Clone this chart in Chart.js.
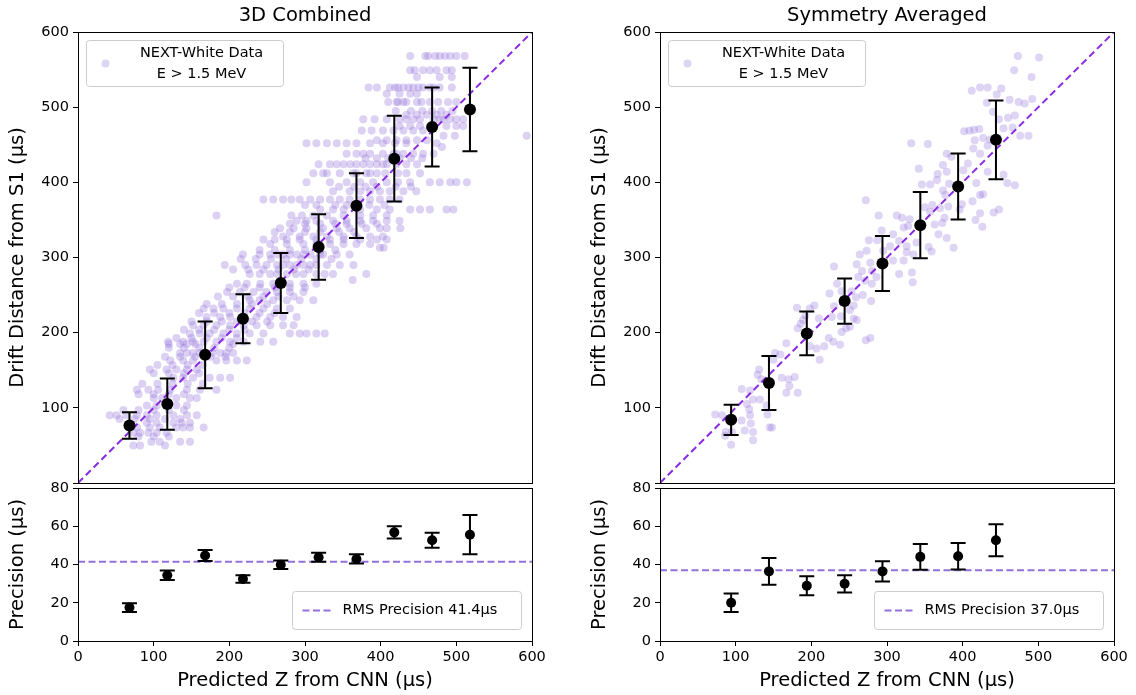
<!DOCTYPE html>
<html>
<head>
<meta charset="utf-8">
<script src="https://cdn.jsdelivr.net/npm/chart.js@4.4.1/dist/chart.umd.min.js"></script>
<style>
html, body { margin: 0; padding: 0; background: #fff; overflow: hidden; }
.box { position: absolute; }
</style>
</head>
<body>
<div class="box" style="left:0;top:0;width:554px;height:489px"><canvas id="combinedTop"></canvas></div>
<div class="box" style="left:0;top:470px;width:554px;height:225px"><canvas id="combinedBottom"></canvas></div>
<div class="box" style="left:582px;top:0;width:554px;height:489px"><canvas id="symTop"></canvas></div>
<div class="box" style="left:582px;top:470px;width:554px;height:225px"><canvas id="symBottom"></canvas></div>
<script>
// ---- 3D Combined ----
// each row: [drift distance, predicted z values ...]
const combinedCloudRows = [
  [568, 439,459,463,472,478,485,492,500,511],
  [549, 439,445,456,465,474,487,494],
  [540, 448,478,494],
  [526, 384,395,412,419,423,430,437,443,450,456,465,470,478,494],
  [518, 408,425,439,448],
  [507, 410,421,423,430,434,448,454,465,476,489,500],
  [495, 420,440,455,468,480,495],
  [490, 434,448,461,474,487],
  [484, 377,392,408,425,434,443,452,470,478,483,492,500,509],
  [475, 425,439,452,470,487,500,509],
  [469, 375,388,403,417,430,443,456],
  [462, 483,498,593],
  [456, 395,408,421,434,448,461],
  [452, 302,315,329,342,355,368,386,403,419,434,474],
  [447, 481],
  [438, 355,368,377,386,403,417,421,430,443,456,470],
  [432, 380,395,410,425,440,455],
  [424, 318,333,342,351,360,368,377,386,395,403,408,421,434,448],
  [412, 311,324,329,346,364,368,381,386,395,406,423,434,452],
  [400, 302,333,355,373,390,408,423,439,465,478,492,500,514],
  [394, 345,365,380,395,420,440],
  [388, 337,359,373,386,399,412,430,447],
  [377, 245,258,271,282,293,307,320,333,346,359,373,386,399,412,425],
  [370, 300,315,340,355,370,385,405],
  [364, 320,337,351,373,395,412,439,452,465,487,496],
  [356, 183,282,296,311,329,351,373,390,408],
  [349, 289,302,315,337,355,373,390,408,425],
  [345, 280,300,320,340,355,375,395],
  [339, 267,285,302,324,342,359,381,399,408,426],
  [334, 260,280,300,320,345,365],
  [328, 271,293,311,329,351,368,386,403],
  [324, 245,260,276,293,315,333,351,373,395,408],
  [318, 254,276,298,315,333,351,368,386],
  [313, 399,404],
  [310, 240,260,280,300,320,340],
  [304, 218,240,254,264,271,280,289,298,307,320,324,342,359],
  [298, 215,235,255,275,295,315,335],
  [290, 194,221,236,249,263,271,280,289,298,307,315,329,346,364],
  [284, 205,225,245,265,285,305],
  [278, 227,240,254,263,276,288,298,315,326,337,381],
  [270, 363],
  [265, 210,223,241,258,280,298,315],
  [260, 200,220,240,260,280,300],
  [254, 197,214,232,249,263,280,298],
  [248, 185,205,225,245,265,285],
  [243, 227,240,258,276,293,311],
  [238, 170,190,210,230,250],
  [232, 166,179,192,210,227,245,263,280],
  [226, 160,180,200,220,240,260],
  [221, 170,188,201,219,236,254,271,289],
  [215, 150,170,190,210,230,250],
  [210, 152,166,183,201,219,236,254,271,285],
  [204, 140,160,180,200,220],
  [199, 148,161,174,192,210,227,245,280,293,302,315,326],
  [193, 130,150,170,190,210],
  [188, 119,139,152,166,183,201,219,241,258],
  [185, 120,135,144,155,205],
  [180, 120,140,160,180,200],
  [173, 135,144,152,161,170,178,188,196,205],
  [168, 115,135,155,175,195],
  [163, 122,139,152,183,196,210,223],
  [157, 105,125,145,165],
  [151, 95,117,130,144,157],
  [146, 100,120,140,160],
  [140, 126,139,152,174,188,201],
  [132, 85,105,125,145,165],
  [124, 78,93,106,122,144,161,183],
  [118, 80,100,120,140],
  [113, 100,111,130,148,157],
  [103, 91,104,130,144],
  [97, 60,80,100,120,140],
  [90, 42,51,64,78,91,104,126,144,157],
  [85, 55,75,95,115,135],
  [80, 91,104,126,137,148],
  [74, 78,95,108,130,139,148,166],
  [67, 73,82,93,104,117],
  [62, 80,100,120],
  [55, 97,108,135,148],
  [50, 73,82,115]
];
const combinedCentres = [68, 118, 168, 218, 268, 318, 368, 418, 468, 518];
const combinedMean = [76.5, 105, 170.5, 218.5, 266, 314, 369, 431.5, 473.5, 497];
const combinedSpread = [17.5, 34, 44.5, 32.5, 40, 43.5, 43, 57, 52.5, 55.5];
const combinedPrecision = [17.5, 34.4, 44.7, 32.4, 39.9, 43.8, 42.9, 56.8, 52.7, 55.6];
const combinedPrecisionErr = [2.3, 2.5, 2.9, 2, 2.2, 2.4, 2.4, 3.2, 3.9, 10.3];
const combinedRms = 41.4;

// ---- Symmetry Averaged ----
// [predicted z, drift distance]
const symCloud = [
  [473,568],[501,566],[468,549],[491,540],[433,526],[423,526],[412,522],[451,525],[445,517],[462,510],
  [474,507],[482,505],[492,511],[432,506],[440,494],[448,484],[460,486],[469,489],[454,472],[466,473],
  [476,462],[487,462],[402,468],[409,469],[415,470],[422,471],[416,456],[427,459],[433,449],[436,457],
  [414,445],[423,438],[332,452],[354,451],[379,438],[385,434],[374,423],[407,425],[401,416],[433,414],
  [454,410],[459,399],[469,396],[367,411],[379,414],[342,418],[346,397],[357,397],[366,403],[382,398],
  [374,389],[418,399],[423,383],[427,384],[413,375],[399,371],[396,364],[423,359],[441,360],[448,364],
  [417,350],[426,341],[377,383],[381,368],[370,366],[376,353],[373,346],[363,344],[357,361],[360,370],
  [350,367],[272,376],[289,356],[313,356],[320,353],[330,351],[328,342],[322,340],[308,331],[293,336],
  [276,323],[287,323],[295,309],[304,315],[316,322],[326,315],[339,320],[355,314],[359,308],[368,331],
  [379,326],[388,313],[335,304],[326,307],[322,296],[308,296],[333,280],[334,267],[316,278],[286,274],
  [278,293],[280,282],[273,309],[264,304],[260,291],[267,282],[271,269],[262,274],[280,265],[230,288],
  [234,265],[240,255],[253,255],[224,252],[259,247],[268,250],[279,242],[256,236],[251,230],[256,219],
  [260,217],[239,222],[230,235],[227,221],[240,201],[246,206],[251,208],[272,190],[278,193],[223,193],
  [229,188],[238,184],[217,182],[207,179],[204,236],[198,232],[192,223],[181,233],[186,212],[182,206],
  [189,217],[210,219],[211,164],[198,182],[159,171],[152,173],[167,186],[150,164],[131,151],[129,144],
  [134,138],[161,140],[170,138],[178,141],[171,129],[167,120],[182,120],[108,125],[119,123],[123,111],
  [115,105],[132,111],[118,98],[119,90],[120,79],[123,68],[108,83],[112,70],[95,68],[87,68],
  [86,63],[94,51],[123,57],[73,91],[82,90],[145,74],[142,91],[148,74],[141,103]
];
const symCentres = [94, 144, 194, 244, 294, 344, 394, 444];
const symMean = [84, 133, 199, 242, 292, 343, 394.5, 456.5];
const symSpread = [20, 36, 29, 30, 36.5, 44, 44, 52.5];
const symPrecision = [20, 36.4, 28.9, 29.9, 36.4, 44, 44.3, 52.7];
const symPrecisionErr = [4.8, 7, 5, 4.5, 5.3, 6.7, 6.9, 8.4];
const symRms = 37.0;

const driftTicks = [0, 100, 200, 300, 400, 500, 600];
const precisionTicks = [0, 20, 40, 60, 80];

const diagColour = '#8a2be2';
const rmsColour = '#9370db';

Chart.defaults.font.family = 'DejaVu Sans';
Chart.defaults.color = '#000';
Chart.defaults.animation = false;

const framePlugin = {
  id: 'frame',
  afterDatasetsDraw(chart) {
    const { ctx, chartArea: a } = chart;
    ctx.save();
    ctx.strokeStyle = '#000';
    ctx.lineWidth = 1;
    ctx.strokeRect(Math.round(a.left) + 0.5, Math.round(a.top) + 0.5,
      Math.round(a.right) - Math.round(a.left), Math.round(a.bottom) - Math.round(a.top));
    ctx.restore();
  }
};

const errorBarPlugin = {
  id: 'errorBars',
  afterDatasetsDraw(chart) {
    const { ctx, scales: { x, y } } = chart;
    chart.data.datasets.forEach(ds => {
      if (!ds.errors) return;
      const cap = ds.capHalf;
      ctx.save();
      ctx.strokeStyle = '#000';
      ctx.lineWidth = 2;
      ds.data.forEach((p, j) => {
        const px = x.getPixelForValue(p.x);
        const hi = y.getPixelForValue(p.y + ds.errors[j]);
        const lo = y.getPixelForValue(p.y - ds.errors[j]);
        ctx.beginPath();
        ctx.moveTo(px, hi); ctx.lineTo(px, lo);
        ctx.moveTo(px - cap, hi); ctx.lineTo(px + cap, hi);
        ctx.moveTo(px - cap, lo); ctx.lineTo(px + cap, lo);
        ctx.stroke();
      });
      ctx.restore();
    });
  }
};

function roundBox(ctx, x, y, w, h, r) {
  ctx.beginPath();
  ctx.moveTo(x + r, y);
  ctx.arcTo(x + w, y, x + w, y + h, r);
  ctx.arcTo(x + w, y + h, x, y + h, r);
  ctx.arcTo(x, y + h, x, y, r);
  ctx.arcTo(x, y, x + w, y, r);
  ctx.closePath();
  ctx.fillStyle = 'rgba(255,255,255,0.8)';
  ctx.fill();
  ctx.strokeStyle = '#cccccc';
  ctx.lineWidth = 1;
  ctx.stroke();
}

const boxLegendPlugin = {
  id: 'boxLegend',
  afterDraw(chart, args, opts) {
    const { ctx, chartArea: a } = chart;
    const ds = chart.data.datasets[opts.datasetIndex];
    ctx.save();
    ctx.font = '14.5px "DejaVu Sans"';
    ctx.textBaseline = 'middle';
    if (opts.kind === 'cloud') {
      const bx = a.left + 8.5, by = a.top + 8.5, w = 197, h = 46;
      roundBox(ctx, bx, by, w, h, 3);
      ctx.fillStyle = 'rgba(147,112,219,0.3)';
      ctx.beginPath();
      ctx.arc(bx + 19, by + 23, 4, 0, Math.PI * 2);
      ctx.fill();
      ctx.fillStyle = '#000';
      ctx.textAlign = 'center';
      ds.label.split('\n').forEach((line, i) => ctx.fillText(line, bx + 115, by + 13 + i * 21));
    } else {
      const w = 229, h = 38;
      const bx = a.right - 10.5 - w, by = a.bottom - 11.5 - h;
      roundBox(ctx, bx, by, w, h, 3);
      ctx.strokeStyle = ds.borderColor;
      ctx.lineWidth = 2;
      ctx.setLineDash(ds.borderDash);
      ctx.beginPath();
      ctx.moveTo(bx + 10, by + 19);
      ctx.lineTo(bx + 40, by + 19);
      ctx.stroke();
      ctx.setLineDash([]);
      ctx.fillStyle = '#000';
      ctx.textAlign = 'left';
      ctx.fillText(ds.label, bx + 50, by + 19);
    }
    ctx.restore();
  }
};

const tickFont = { size: 14.5 };
const titleFont = { size: 19.5 };
const tickGrid = { display: true, drawOnChartArea: false, drawTicks: true, tickLength: 5, color: '#000', lineWidth: 1 };

function fixWidth(w) {
  return s => { s.width = w; s.paddingTop = 0; s.paddingBottom = 0; };
}

function makeTop(id, title, cloud, cloudColour, centres, mean, spread) {
  new Chart(document.getElementById(id), {
    type: 'scatter',
    data: {
      datasets: [
        {
          label: 'NEXT-White Data\nE > 1.5 MeV',
          data: cloud,
          backgroundColor: cloudColour,
          borderWidth: 0,
          pointRadius: 4,
          order: 3
        },
        {
          label: 'y = x',
          data: driftTicks.filter((v, i) => i === 0 || i === driftTicks.length - 1).map(v => ({ x: v, y: v })),
          showLine: true,
          borderColor: diagColour,
          borderWidth: 2,
          borderDash: [7, 4],
          pointRadius: 0,
          order: 2
        },
        {
          label: 'mean',
          data: centres.map((c, i) => ({ x: c, y: mean[i] })),
          backgroundColor: '#000',
          borderWidth: 0,
          pointRadius: 6,
          errors: spread,
          capHalf: 7.5,
          order: 1
        }
      ]
    },
    options: {
      responsive: true,
      maintainAspectRatio: false,
      events: [],
      layout: { padding: { left: 0, right: 22, top: 0, bottom: 1 } },
      scales: {
        x: { type: 'linear', min: 0, max: 600, display: false },
        y: {
          type: 'linear', min: 0, max: 600,
          afterBuildTicks: s => { s.ticks = driftTicks.map(v => ({ value: v })); },
          ticks: { font: tickFont, padding: 4, callback: v => (v === 0 ? '' : v) },
          grid: tickGrid,
          border: { display: false },
          title: { display: true, text: 'Drift Distance from S1 (μs)', font: titleFont, padding: { top: 6.3, bottom: 0 } },
          afterFit: fixWidth(78)
        }
      },
      plugins: {
        legend: { display: false },
        tooltip: { enabled: false },
        title: { display: true, text: title, fullSize: false, font: { size: 19.5, weight: 'normal' }, padding: { top: 4, bottom: 4.6 } },
        boxLegend: { kind: 'cloud', datasetIndex: 0 }
      }
    },
    plugins: [framePlugin, errorBarPlugin, boxLegendPlugin]
  });
}

function makeBottom(id, centres, precision, precisionErr, rms) {
  new Chart(document.getElementById(id), {
    type: 'scatter',
    data: {
      datasets: [
        {
          label: 'RMS Precision ' + rms.toFixed(1) + 'μs',
          data: [{ x: 0, y: rms }, { x: 600, y: rms }],
          showLine: true,
          borderColor: rmsColour,
          borderWidth: 2,
          borderDash: [7, 3.5],
          pointRadius: 0,
          order: 2
        },
        {
          label: 'precision',
          data: centres.map((c, i) => ({ x: c, y: precision[i] })),
          backgroundColor: '#000',
          borderWidth: 0,
          pointRadius: 5,
          errors: precisionErr,
          capHalf: 7.5,
          order: 1
        }
      ]
    },
    options: {
      responsive: true,
      maintainAspectRatio: false,
      events: [],
      layout: { padding: { left: 0, right: 22, top: 18, bottom: 0 } },
      scales: {
        x: {
          type: 'linear', min: 0, max: 600,
          afterBuildTicks: s => { s.ticks = driftTicks.map(v => ({ value: v })); },
          ticks: { font: tickFont, padding: 3, maxRotation: 0 },
          grid: tickGrid,
          border: { display: false },
          title: { display: true, text: 'Predicted Z from CNN (μs)', font: titleFont, padding: { top: 0, bottom: 2.3 } },
          afterFit: s => { s.height = 54; s.paddingLeft = 0; s.paddingRight = 0; }
        },
        y: {
          type: 'linear', min: 0, max: 80,
          afterBuildTicks: s => { s.ticks = precisionTicks.map(v => ({ value: v })); },
          ticks: { font: tickFont, padding: 4 },
          grid: tickGrid,
          border: { display: false },
          title: { display: true, text: 'Precision (μs)', font: titleFont, padding: { top: 6.3, bottom: 0 } },
          afterFit: fixWidth(78)
        }
      },
      plugins: {
        legend: { display: false },
        tooltip: { enabled: false },
        boxLegend: { kind: 'rms', datasetIndex: 0 }
      }
    },
    plugins: [framePlugin, errorBarPlugin, boxLegendPlugin]
  });
}

const combinedCloud = [];
combinedCloudRows.forEach(row => row.slice(1).forEach(z => combinedCloud.push({ x: z, y: row[0] })));

makeTop('combinedTop', '3D Combined', combinedCloud, 'rgba(147,112,219,0.32)', combinedCentres, combinedMean, combinedSpread);
makeBottom('combinedBottom', combinedCentres, combinedPrecision, combinedPrecisionErr, combinedRms);
makeTop('symTop', 'Symmetry Averaged', symCloud.map(p => ({ x: p[0], y: p[1] })), 'rgba(147,112,219,0.3)', symCentres, symMean, symSpread);
makeBottom('symBottom', symCentres, symPrecision, symPrecisionErr, symRms);
</script>
</body>
</html>
